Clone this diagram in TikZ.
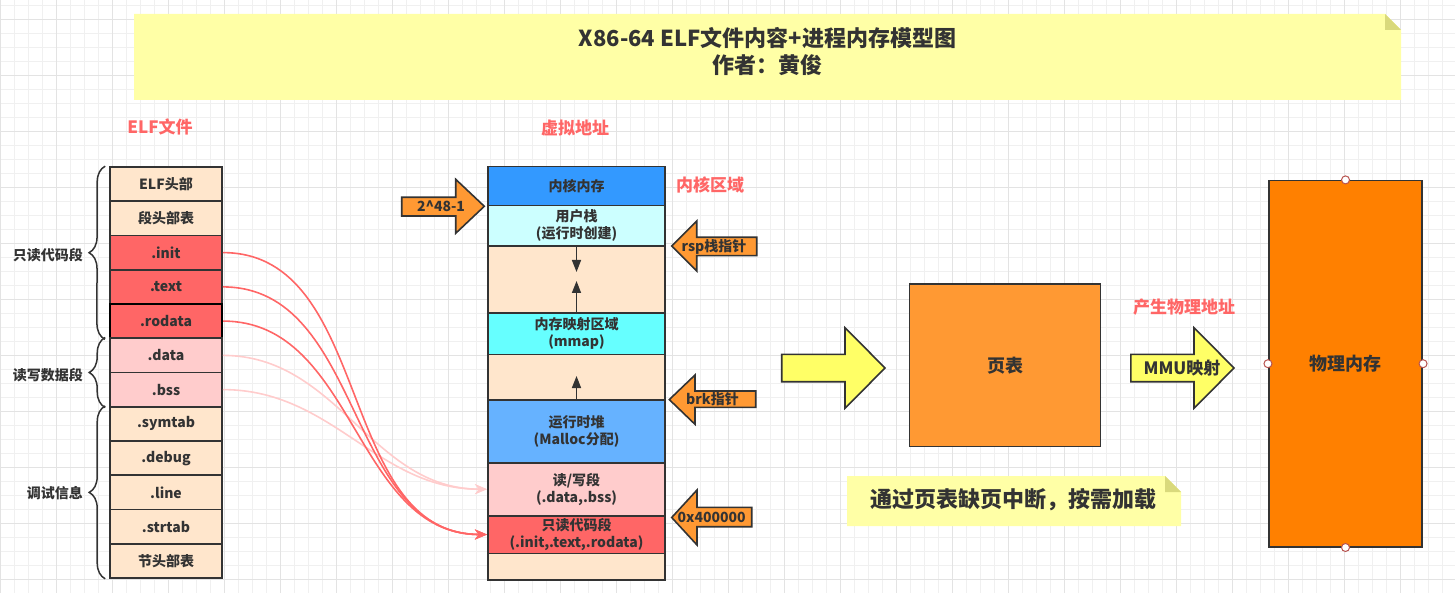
\documentclass[tikz,border=0pt]{standalone}
\usepackage{fontspec}
\setmainfont{Noto Sans CJK SC}
\usepackage{xcolor}
\usepackage{tikz}
\usetikzlibrary{arrows.meta,decorations.pathreplacing}
\definecolor{bisque}{HTML}{FFE6CC}
\definecolor{redseg}{HTML}{FF6666}
\definecolor{pinkseg}{HTML}{FFCCCC}
\definecolor{kernblue}{HTML}{3399FF}
\definecolor{heapblue}{HTML}{66B2FF}
\definecolor{stackcyan}{HTML}{CCFFFF}
\definecolor{mmapcyan}{HTML}{66FFFF}
\definecolor{ptorange}{HTML}{FF9933}
\definecolor{pmorange}{HTML}{FF8000}
\definecolor{arrowyellow}{HTML}{FFFF66}
\definecolor{notefill}{HTML}{FFFFA6}
\definecolor{notefold}{HTML}{D9D97C}
\definecolor{inkgray}{HTML}{333333}
\definecolor{labelred}{HTML}{FF6666}
\definecolor{handlered}{HTML}{B85450}
\tikzset{seg/.style={rectangle,draw=inkgray,line width=1.6pt,minimum width=112pt,minimum height=34.25pt,inner sep=0pt,text=inkgray,font=\bfseries\fontsize{14}{17}\selectfont}}
\tikzset{vseg/.style={seg,minimum width=177.5pt,align=center}}
\tikzset{redlabel/.style={text=labelred,inner sep=1pt,font=\bfseries\fontsize{17}{20}\selectfont}}
\tikzset{bracetext/.style={anchor=east,text=inkgray,inner sep=1pt,font=\bfseries\fontsize{14}{17}\selectfont}}
\tikzset{curlybrace/.style={draw=inkgray,line width=1.5pt,decorate,decoration={brace,amplitude=16pt}}}
\tikzset{barrow/.style={draw=inkgray,fill=ptorange,line width=1.6pt,line join=miter}}
\tikzset{yarrow/.style={barrow,fill=arrowyellow}}
\tikzset{atext/.style={text=inkgray,inner sep=0pt,font=\bfseries\fontsize{14}{17}\selectfont}}
\tikzset{curve/.style={line width=1.6pt,-{Stealth[length=12pt,width=10pt]}}}
\tikzset{inarrow/.style={draw=inkgray,line width=1.6pt,-{Triangle[length=12pt,width=9pt]}}}
\tikzset{handle/.style={draw=handlered,fill=white,line width=1pt}}

\begin{document}
\begin{tikzpicture}[x=1pt,y=-1pt]
    \useasboundingbox (0,0) rectangle (1455,593);
    % grid
    \foreach \gx in {0.7,14.7,...,1455} \draw[gray!12,line width=0.8pt] (\gx,0) -- (\gx,593);
    \foreach \gy in {5,19,...,593} \draw[gray!12,line width=0.8pt] (0,\gy) -- (1455,\gy);
    \foreach \gx in {0.7,56.7,...,1455} \draw[gray!22,line width=0.8pt] (\gx,0) -- (\gx,593);
    \foreach \gy in {19,75,...,593} \draw[gray!22,line width=0.8pt] (0,\gy) -- (1455,\gy);

    % title note
    \fill[notefill] (134,14) -- (1385,14) -- (1401,30) -- (1401,100) -- (134,100) -- cycle;
    \fill[notefold] (1385,14) -- (1385,30) -- (1401,30) -- cycle;
    \node[text=inkgray,align=center,font=\bfseries\fontsize{22}{27}\selectfont] (title) at (767.5,51.5) {X86-64 ELF文件内容+进程内存模型图\\作者：黄俊};

    % ELF file
    \node[redlabel] (elflbl) at (160,127) {ELF文件};
    \node[seg,fill=bisque] (elfhdr) at (166,184.1) {ELF头部};
    \node[seg,fill=bisque] (phdr) at (166,218.4) {段头部表};
    \node[seg,fill=redseg] (init) at (166,252.6) {.init};
    \node[seg,fill=redseg] (text) at (166,286.9) {.text};
    \node[seg,fill=redseg,draw=black,line width=2.2pt] (rodata) at (166,321.1) {.rodata};
    \node[seg,fill=pinkseg] (data) at (166,355.4) {.data};
    \node[seg,fill=pinkseg] (bss) at (166,389.6) {.bss};
    \node[seg,fill=bisque] (symtab) at (166,423.9) {.symtab};
    \node[seg,fill=bisque] (debug) at (166,458.1) {.debug};
    \node[seg,fill=bisque] (line) at (166,492.4) {.line};
    \node[seg,fill=bisque] (strtab) at (166,526.6) {.strtab};
    \node[seg,fill=bisque] (shdr) at (166,560.9) {节头部表};

    \draw[curlybrace] ([xshift=-4pt]rodata.south west) -- ([xshift=-4pt]elfhdr.north west);
    \draw[curlybrace] ([xshift=-4pt]bss.south west) -- ([xshift=-4pt]data.north west);
    \draw[curlybrace] ([xshift=-4pt]shdr.south west) -- ([xshift=-4pt]symtab.north west);
    \node[bracetext] (rosec) at (84,255) {只读代码段};
    \node[bracetext] (rwsec) at (84,375) {读写数据段};
    \node[bracetext] (dbgsec) at (84,493) {调试信息};

    % virtual address space
    \node[redlabel] (vlbl) at (575,128) {虚拟地址};
    \node[vseg,fill=kernblue,minimum height=39pt] (kern) at (576.5,186.2) {内核内存};
    \node[vseg,fill=stackcyan,minimum height=40.3pt] (stack) at (576.5,225.85) {用户栈\\(运行时创建)};
    \node[vseg,fill=bisque,minimum height=67.3pt] (gapa) at (576.5,279.65) {};
    \node[vseg,fill=mmapcyan,minimum height=41pt] (mmap) at (576.5,333.8) {内存映射区域\\(mmap)};
    \node[vseg,fill=bisque,minimum height=45.7pt] (gapb) at (576.5,377.15) {};
    \node[vseg,fill=heapblue,minimum height=62.7pt] (heap) at (576.5,431.35) {运行时堆\\(Malloc分配)};
    \node[vseg,fill=pinkseg,minimum height=53pt] (rw) at (576.5,489.2) {读/写段\\(.data,.bss)};
    \node[vseg,fill=redseg,minimum height=37.6pt] (ro) at (576.5,534.5) {只读代码段\\(.init,.text,.rodata)};
    \node[vseg,fill=bisque,minimum height=26.7pt] (gapc) at (576.5,566.65) {};
    \node[redlabel] (klbl) at (710,185) {内核区域};

    \coordinate (dnend) at (576.5,272);
    \coordinate (upone) at (576.5,281);
    \coordinate (uptwo) at (576.5,376);
    \draw[inarrow] (stack.south) -- (dnend);
    \draw[inarrow] (mmap.north) -- (upone);
    \draw[inarrow] (heap.north) -- (uptwo);

    % pointers
    \draw[barrow] (401.7,197.3) -- (455.7,197.3) -- (455.7,179.3) -- (484.3,206.3) -- (455.7,233.3) -- (455.7,216) -- (401.7,216) -- cycle;
    \node[atext] (p48) at (441,206.5) {2\textasciicircum48-1};
    \draw[barrow] (671.7,246) -- (696.7,221) -- (696.7,237.3) -- (756.7,237.3) -- (756.7,255.7) -- (696.7,255.7) -- (696.7,271) -- cycle;
    \node[atext] (rsp) at (714,246.5) {rsp栈指针};
    \draw[barrow] (669.3,399.6) -- (695,375) -- (695,391) -- (755.7,391) -- (755.7,407.3) -- (695,407.3) -- (695,424.3) -- cycle;
    \node[atext] (brk) at (712.5,399.2) {brk指针};
    \draw[barrow] (671.7,517.5) -- (697,490) -- (697,507.3) -- (751.7,507.3) -- (751.7,526.7) -- (697,526.7) -- (697,545) -- cycle;
    \node[atext] (lowaddr) at (711.7,517) {0x400000};

    % file sections to segments
    \draw[curve,pinkseg] (data.east) to[out=0,in=180] (rw.west);
    \draw[curve,pinkseg] (bss.east) to[out=0,in=180] (rw.west);
    \draw[curve,redseg] (init.east) to[out=0,in=180] (ro.west);
    \draw[curve,redseg] (text.east) to[out=0,in=180] (ro.west);
    \draw[curve,redseg] (rodata.east) to[out=0,in=180] (ro.west);

    % page table and physical memory
    \draw[yarrow] (781.7,354.3) -- (845,354.3) -- (845,327.7) -- (885,368) -- (845,408.3) -- (845,381.7) -- (781.7,381.7) -- cycle;
    \node[seg,fill=ptorange,minimum width=190.8pt,minimum height=162.7pt,font=\bfseries\fontsize{18}{21}\selectfont] (pt) at (1005,365.3) {页表};
    \node[redlabel] (plbl) at (1184,307) {产生物理地址};
    \draw[yarrow] (1130.8,354.3) -- (1194,354.3) -- (1194,327.7) -- (1234,368) -- (1194,408.3) -- (1194,381.7) -- (1130.8,381.7) -- cycle;
    \node[atext,font=\bfseries\fontsize{17}{20}\selectfont] (mmu) at (1182,368) {MMU映射};
    \node[seg,fill=pmorange,minimum width=153.5pt,minimum height=366pt,font=\bfseries\fontsize{18}{21}\selectfont] (pm) at (1345.5,363.7) {物理内存};
    \draw[handle] (pm.north) circle[radius=4pt];
    \draw[handle] (pm.south) circle[radius=4pt];
    \draw[handle] (pm.west) circle[radius=4pt];
    \draw[handle] (pm.east) circle[radius=4pt];

    % hint note
    \fill[notefill] (847,476) -- (1165,476) -- (1181,492) -- (1181,526) -- (847,526) -- cycle;
    \fill[notefold] (1165,476) -- (1165,492) -- (1181,492) -- cycle;
    \node[text=inkgray,font=\bfseries\fontsize{22}{26}\selectfont] (hint) at (1013,500) {通过页表缺页中断，按需加载};
\end{tikzpicture}
\end{document}
